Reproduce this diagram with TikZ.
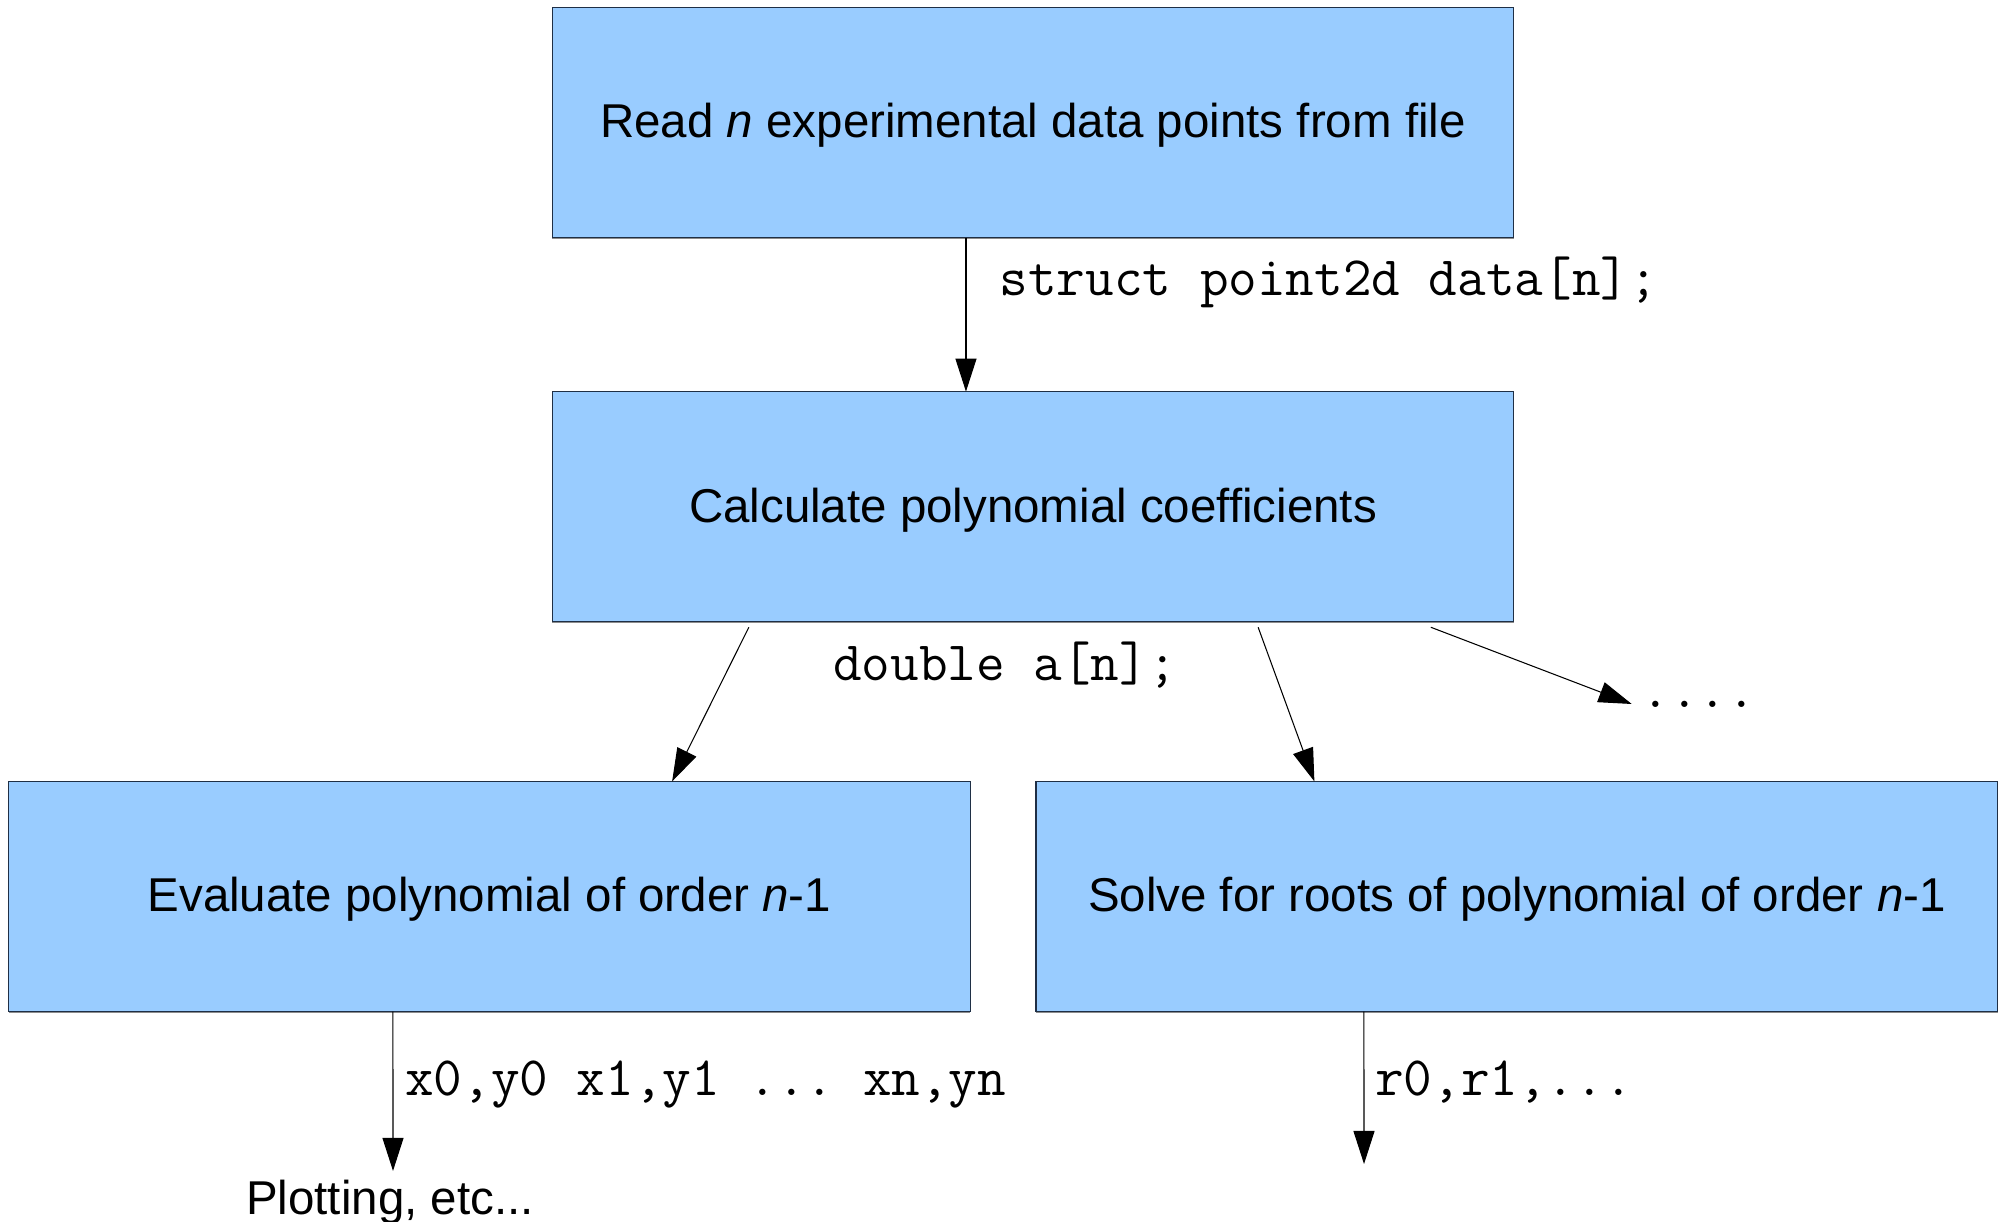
\documentclass[tikz,border=0pt]{standalone}
\usepackage{fontspec}
\setmainfont{Liberation Sans}
\usetikzlibrary{arrows.meta,shadows}
\definecolor{boxfill}{HTML}{99CCFF}
\definecolor{boxline}{HTML}{1F2F45}
\begin{document}
\begin{tikzpicture}[x=0.01cm,y=-0.01cm,
  procbox/.style={draw=boxline, line width=0.35pt, fill=boxfill,
    minimum width=9.61cm, minimum height=2.30cm, inner sep=0pt, outer sep=0pt,
    font=\fontsize{13.5}{16}\selectfont, text height=0.88em, text depth=0pt,
    drop shadow={shadow xshift=0pt, shadow yshift=-0.015cm, fill=black!45, opacity=1}},
  flow/.style={-{Triangle[length=0.33cm,width=0.21cm]}, line width=0.3pt, draw=black},
  code/.style={font=\ttfamily\fontsize{15.8}{18}\selectfont\frenchspacing, inner sep=0pt},
  plain/.style={font=\fontsize{13.5}{16}\selectfont, inner sep=0pt}]

\useasboundingbox (0,0) rectangle (2001,1222);

% processing steps
\node[procbox] (read)  at (1033,122.5)  {Read \textit{n} experimental data points from file};
\node[procbox] (calc)  at (1033,506.7)  {Calculate polynomial coefficients};
\node[procbox] (eval)  at (489.4,896.5) {Evaluate polynomial of order \textit{n}-1};
\node[procbox] (roots) at (1516.8,896.5) {Solve for roots of polynomial of order \textit{n}-1};

% data passed between steps
\node[code, anchor=base west] (lbldata) at (999,296)    {struct point2d data[n];};
\node[code, anchor=base]      (lblcoef) at (1005,680)   {double a[n];};
\node[code, anchor=base west] (dots)    at (1641,707)   {....};
\node[code, anchor=base west] (lblxy)   at (404.5,1095) {x0,y0 x1,y1 ... xn,yn};
\node[code, anchor=base west] (lblr)    at (1374.5,1095) {r0,r1,...};
\node[plain, anchor=base, inner ysep=0.1cm] (plot) at (390,1214) {Plotting, etc...};
\coordinate (rootsout) at (1364,1164);

% connectors
\draw[flow] ([xshift=-0.67cm]read.south) -- ([xshift=-0.67cm]calc.north);
\draw[flow] ([xshift=-2.84cm,yshift=-0.055cm]calc.south) -- ([xshift=1.826cm]eval.north);
\draw[flow] ([xshift=2.25cm,yshift=-0.055cm]calc.south) -- ([xshift=-2.023cm]roots.north);
\draw[flow] ([xshift=3.976cm,yshift=-0.055cm]calc.south) -- ([xshift=-0.093cm,yshift=0.03cm]dots.base west);
\draw[flow] ([xshift=-0.964cm]eval.south) -- ([xshift=0.03cm,yshift=-0.02cm]plot.north);
\draw[flow] ([xshift=-1.528cm]roots.south) -- (rootsout);
\end{tikzpicture}
\end{document}
